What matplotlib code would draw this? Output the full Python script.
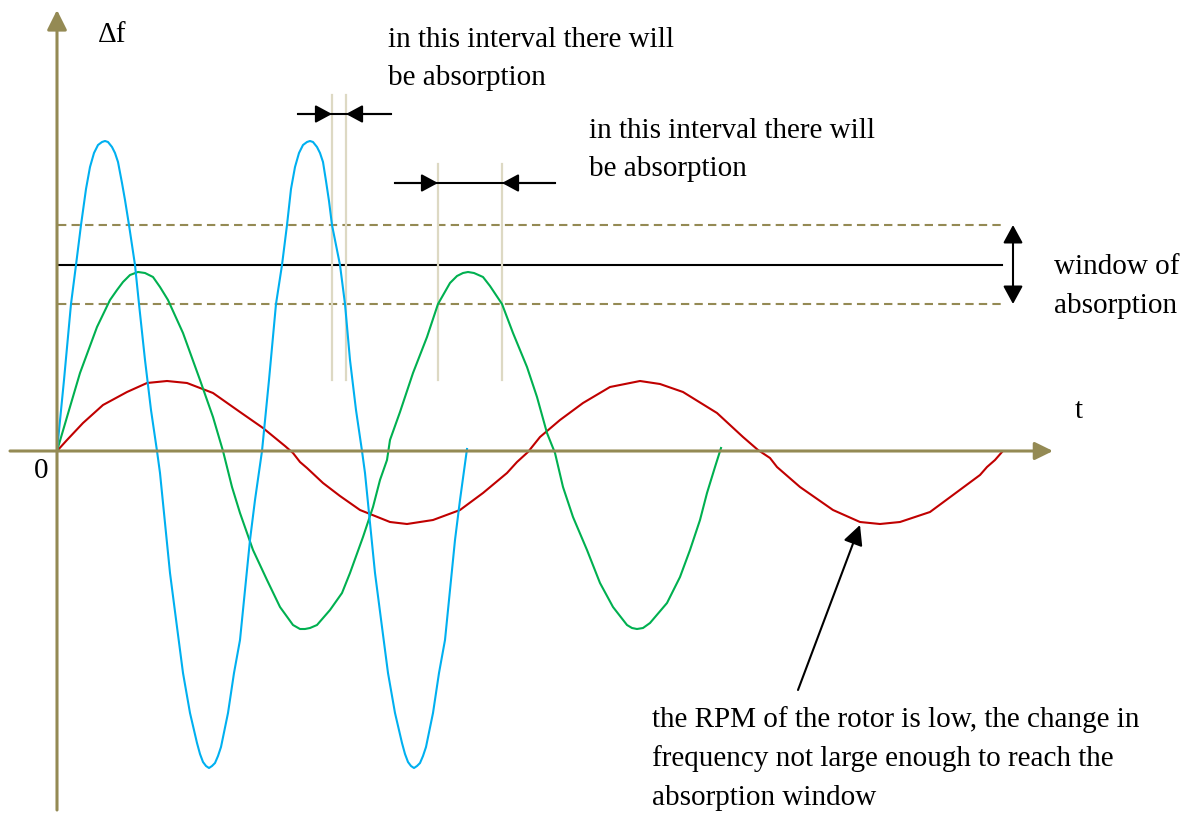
import matplotlib
matplotlib.use("Agg")
import matplotlib.pyplot as plt

# ---------------- data (t, delta f) ----------------
blue_t = [0, 7, 14, 19, 24, 29, 33, 37, 41, 45, 48, 51, 55, 58, 61, 65, 68, 72, 78,
          82, 88, 94, 100, 103, 108, 113, 120, 126, 133, 140, 143, 146, 149, 152,
          155, 158, 161, 164, 171, 177, 183, 188, 193, 198, 205, 212, 219, 225,
          230, 234, 238, 242, 246, 250, 253, 256, 260, 263, 266, 269, 272, 275,
          283, 288, 293, 299, 305, 308, 313, 318, 325, 331, 338, 345, 348, 351,
          354, 357, 360, 363, 366, 369, 376, 382, 388, 393, 398, 403, 410]
blue_f = [0, 71, 147, 186, 226, 262, 284, 298, 306, 309, 310, 309, 304, 298, 289,
          268, 251, 226, 186, 147, 91, 41, 0, -22, -72, -122, -176, -222, -262,
          -292, -303, -311, -315, -317, -315, -312, -305, -296, -262, -222, -189,
          -139, -89, -49, 0, 71, 147, 186, 226, 262, 284, 298, 306, 309, 310, 309,
          304, 298, 289, 270, 250, 226, 186, 147, 91, 41, 0, -22, -72, -122, -176,
          -222, -262, -292, -303, -311, -315, -317, -315, -312, -305, -296, -262,
          -222, -189, -139, -89, -49, 2]

green_t = [0, 10, 23, 40, 53, 60, 66, 73, 81, 88, 96, 103, 111, 126, 143, 156, 166,
           170, 175, 183, 196, 210, 223, 236, 243, 248, 253, 260, 273, 285, 293,
           306, 316, 323, 330, 333, 343, 356, 370, 381, 393, 400, 406, 411, 417,
           426, 433, 445, 456, 470, 480, 490, 498, 506, 516, 530, 543, 556, 570,
           575, 580, 586, 593, 610, 623, 633, 643, 650, 658, 664]
green_f = [0, 34, 78, 124, 151, 161, 169, 176, 179, 178, 174, 164, 151, 118, 71, 34,
           0, -16, -36, -62, -99, -129, -156, -174, -178, -178, -177, -174, -159,
           -142, -122, -86, -56, -29, -9, 11, 39, 78, 114, 147, 168, 175, 178, 179,
           178, 174, 165, 147, 118, 84, 54, 18, -2, -36, -66, -99, -132, -156, -174,
           -177, -178, -177, -172, -152, -126, -99, -69, -42, -16, 3]

red_t = [0, 10, 26, 46, 70, 90, 110, 130, 156, 183, 206, 228, 236, 243, 250, 266,
         283, 303, 333, 350, 376, 403, 426, 450, 460, 471, 483, 503, 526, 553, 583,
         603, 626, 660, 686, 701, 713, 720, 743, 776, 803, 823, 843, 873, 896, 923,
         930, 938, 945]
red_f = [0, 11, 28, 46, 59, 68, 70, 68, 58, 39, 23, 5, -2, -11, -17, -32, -45, -59,
         -71, -73, -69, -59, -42, -22, -11, -1, 14, 31, 48, 64, 70, 67, 59, 38, 14,
         1, -7, -16, -36, -59, -71, -73, -71, -61, -44, -24, -16, -9, -1]

window_center = 186
window_upper = 226
window_lower = 147
window_t_end = 945

interval1_t = [275, 289]
interval2_t = [381, 445]

# ---------------- styling ----------------
OLIVE = "#948A54"
TAN = "#DDD9C3"
BLUE = "#00B0F0"
GREEN = "#00B050"
RED = "#C00000"
FONT = "Liberation Serif"
FS = 21

fig = plt.figure(figsize=(11.94, 8.15), dpi=100)
ax = fig.add_axes([0, 0, 1, 1])
ax.set_xlim(-57, 1137)
ax.set_ylim(-364, 451)
ax.axis("off")


def arrow(xy, xytext, style, color, lw, ms=20):
    ax.annotate("", xy=xy, xytext=xytext,
                arrowprops=dict(arrowstyle=style, color=color, lw=lw,
                                shrinkA=0, shrinkB=0, mutation_scale=ms))


# axes
arrow((996, 0), (-47, 0), "-|>,head_length=0.55,head_width=0.27", OLIVE, 2.2)
arrow((0, 441), (0, -359), "-|>,head_length=0.6,head_width=0.3", OLIVE, 2.2)

# absorption window
ax.plot([1, window_t_end], [window_upper, window_upper], color=OLIVE, lw=1.5,
        dashes=(4, 2.5))
ax.plot([1, window_t_end], [window_lower, window_lower], color=OLIVE, lw=1.5,
        dashes=(4, 2.5))
ax.plot([1, window_t_end], [window_center, window_center], color="black", lw=1.5)
arrow((956, window_upper), (956, window_lower),
      "<|-|>,head_length=0.55,head_width=0.3", "black", 1.5)

# interval markers
for tv in interval1_t:
    ax.plot([tv, tv], [71, 356], color=TAN, lw=1.6)
for tv in interval2_t:
    ax.plot([tv, tv], [71, 287], color=TAN, lw=1.6)

ax.plot([241, 334], [337, 337], color="black", lw=1.5)
arrow((interval1_t[0], 337), (241, 337), "-|>,head_length=0.5,head_width=0.27", "black", 1.5)
arrow((interval1_t[1], 337), (334, 337), "-|>,head_length=0.5,head_width=0.27", "black", 1.5)

ax.plot([338, 498], [268, 268], color="black", lw=1.5)
arrow((interval2_t[0], 268), (338, 268), "-|>,head_length=0.5,head_width=0.27", "black", 1.5)
arrow((interval2_t[1], 268), (498, 268), "-|>,head_length=0.5,head_width=0.27", "black", 1.5)

# curves
ax.plot(red_t, red_f, color=RED, lw=1.5, solid_joinstyle="round")
ax.plot(green_t, green_f, color=GREEN, lw=1.5, solid_joinstyle="round")
ax.plot(blue_t, blue_f, color=BLUE, lw=1.5, solid_joinstyle="round")

# annotation arrow
arrow((803, -74), (741, -239), "-|>,head_length=0.6,head_width=0.3", "black", 1.5)

# texts
tkw = dict(fontsize=FS, family=FONT, va="baseline", ha="left", color="black")
ax.text(41, 409, "Δf", **tkw)
ax.text(-9, -27, "0", **{**tkw, "ha": "right"})
ax.text(1018, 33, "t", **tkw)
ax.text(997, 177, "window of", **tkw)
ax.text(997, 138, "absorption", **tkw)
ax.text(331, 404, "in this interval there will", **tkw)
ax.text(331, 366, "be absorption", **tkw)
ax.text(532, 313, "in this interval there will", **tkw)
ax.text(532, 275, "be absorption", **tkw)
ax.text(595, -276, "the RPM of the rotor is low, the change in", **tkw)
ax.text(595, -315, "frequency not large enough to reach the", **tkw)
ax.text(595, -354, "absorption window", **tkw)

fig.savefig("out.png", dpi=100)
